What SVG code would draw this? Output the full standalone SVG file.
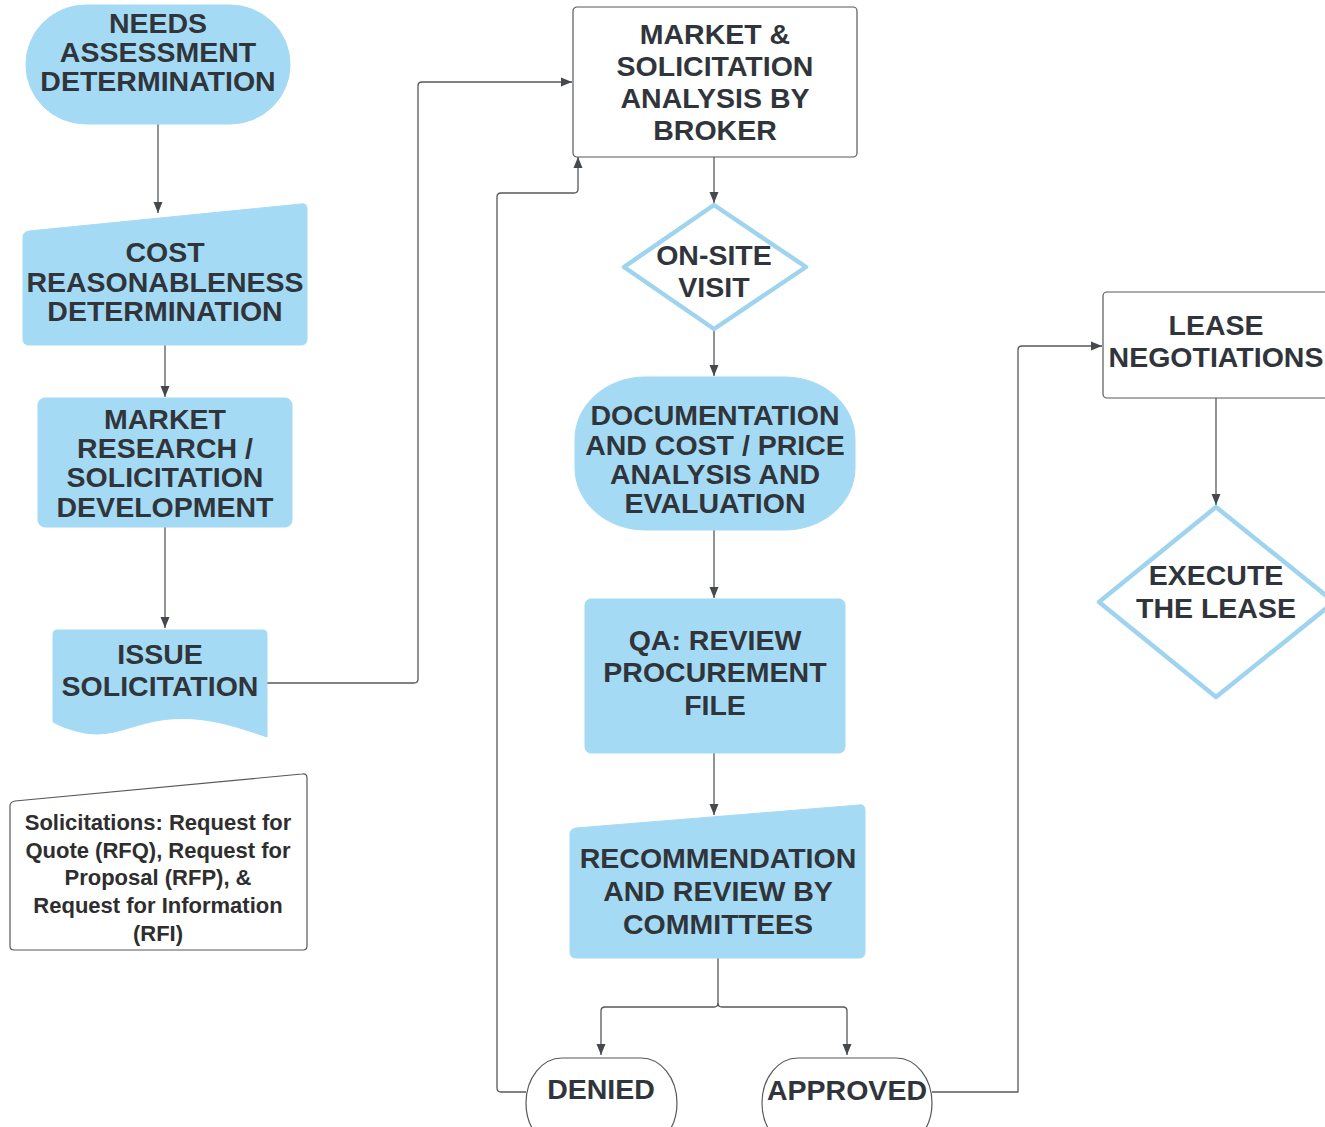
<svg xmlns="http://www.w3.org/2000/svg" width="1325" height="1127" viewBox="0 0 1325 1127">
<defs>
<style>
.lbl{font-family:"Liberation Sans",Arial,sans-serif;font-weight:bold;font-size:28.5px;fill:#30353b;text-anchor:middle}
.note{font-family:"Liberation Sans",Arial,sans-serif;font-weight:bold;font-size:22px;fill:#2e2e2e;text-anchor:middle}
.blue{fill:#a5daf4;stroke:#a5daf4;stroke-width:1;stroke-linejoin:round}
.white{fill:#ffffff;stroke:#55585c;stroke-width:1.2;stroke-linejoin:round}
.dia{fill:#ffffff;stroke:#9fd4ef;stroke-width:4.5;stroke-linejoin:round}
.con{fill:none;stroke:#55585c;stroke-width:1.3;stroke-linejoin:round}
</style>
<marker id="ah" viewBox="0 0 11 10" refX="11" refY="5" markerWidth="11" markerHeight="10" markerUnits="userSpaceOnUse" orient="auto">
<path d="M0,0.5 L11,5 L0,9.5 Z" fill="#45484c"/>
</marker>
</defs>
<rect width="1325" height="1127" fill="#ffffff"/>

<g id="connectors">
<path class="con" d="M158,124 V213" marker-end="url(#ah)"/>
<path class="con" d="M165,345 V397" marker-end="url(#ah)"/>
<path class="con" d="M165,527 V628" marker-end="url(#ah)"/>
<path class="con" d="M267,683 H414 Q418,683 418,679 V86 Q418,82 422,82 H572" marker-end="url(#ah)"/>
<path class="con" d="M714,157 V203" marker-end="url(#ah)"/>
<path class="con" d="M714,330 V376" marker-end="url(#ah)"/>
<path class="con" d="M714,530 V598" marker-end="url(#ah)"/>
<path class="con" d="M714,753 V815" marker-end="url(#ah)"/>
<path class="con" d="M718,958 V1003 Q718,1007 714,1007 H605 Q601,1007 601,1011 V1055" marker-end="url(#ah)"/>
<path class="con" d="M718,1003 Q718,1007 722,1007 H843 Q847,1007 847,1011 V1055" marker-end="url(#ah)"/>
<path class="con" d="M526,1092 H501 Q497,1092 497,1088 V197 Q497,193 501,193 H574 Q578,193 578,189 V157" marker-end="url(#ah)"/>
<path class="con" d="M932,1092 H1018 V350 Q1018,346 1022,346 H1102" marker-end="url(#ah)"/>
<path class="con" d="M1216,398 V505" marker-end="url(#ah)"/>
<path d="M277,459 L291,463.5 L277,468 Z" fill="#45484c"/>
</g>

<g id="needs">
<rect class="blue" x="26" y="5" width="264" height="119" rx="60" ry="59"/>
<text class="lbl" x="158" y="33">NEEDS</text>
<text class="lbl" x="158" y="62">ASSESSMENT</text>
<text class="lbl" x="158" y="91">DETERMINATION</text>
</g>

<g id="cost">
<path class="blue" d="M29,231 L301,204 Q307,203 307,209 V339 Q307,345 301,345 H29 Q23,345 23,339 V237 Q23,232 29,231 Z"/>
<text class="lbl" x="165" y="262">COST</text>
<text class="lbl" x="165" y="292">REASONABLENESS</text>
<text class="lbl" x="165" y="321">DETERMINATION</text>
</g>

<g id="market-research">
<rect class="blue" x="38" y="398" width="254" height="129" rx="7"/>
<text class="lbl" x="165" y="429">MARKET</text>
<text class="lbl" x="165" y="458">RESEARCH /</text>
<text class="lbl" x="165" y="487">SOLICITATION</text>
<text class="lbl" x="165" y="517">DEVELOPMENT</text>
</g>

<g id="issue">
<path class="blue" d="M57,630 H263 Q267,630 267,634 V737 C235,726 205,716 170,719 C135,722 115,738 85,733 C70,730 60,726 53,722 V634 Q53,630 57,630 Z"/>
<text class="lbl" x="160" y="664">ISSUE</text>
<text class="lbl" x="160" y="696">SOLICITATION</text>
</g>

<g id="note">
<path class="white" d="M15,801 L302,774 Q307,773 307,778 V946 Q307,950 303,950 H14 Q10,950 10,946 V806 Q10,802 15,801 Z"/>
<text class="note" x="158" y="830">Solicitations: Request for</text>
<text class="note" x="158" y="858">Quote (RFQ), Request for</text>
<text class="note" x="158" y="885">Proposal (RFP), &amp;</text>
<text class="note" x="158" y="913">Request for Information</text>
<text class="note" x="158" y="941">(RFI)</text>
</g>

<g id="broker">
<rect class="white" x="573" y="7" width="284" height="150" rx="4"/>
<text class="lbl" x="715" y="44">MARKET &amp;</text>
<text class="lbl" x="715" y="76">SOLICITATION</text>
<text class="lbl" x="715" y="108">ANALYSIS BY</text>
<text class="lbl" x="715" y="140">BROKER</text>
</g>

<g id="onsite">
<path class="dia" d="M714,205 L806,267 L714,329 L624,267 Z"/>
<text class="lbl" x="714" y="265">ON-SITE</text>
<text class="lbl" x="714" y="297">VISIT</text>
</g>

<g id="documentation">
<rect class="blue" x="575" y="377" width="280" height="153" rx="70" ry="62"/>
<text class="lbl" x="715" y="425">DOCUMENTATION</text>
<text class="lbl" x="715" y="455">AND COST / PRICE</text>
<text class="lbl" x="715" y="484">ANALYSIS AND</text>
<text class="lbl" x="715" y="513">EVALUATION</text>
</g>

<g id="qa">
<rect class="blue" x="585" y="599" width="260" height="154" rx="6"/>
<text class="lbl" x="715" y="650">QA: REVIEW</text>
<text class="lbl" x="715" y="682">PROCUREMENT</text>
<text class="lbl" x="715" y="715">FILE</text>
</g>

<g id="recommendation">
<path class="blue" d="M576,828 L859,805 Q865,804 865,810 V952 Q865,958 859,958 H576 Q570,958 570,952 V834 Q570,829 576,828 Z"/>
<text class="lbl" x="718" y="868">RECOMMENDATION</text>
<text class="lbl" x="718" y="901">AND REVIEW BY</text>
<text class="lbl" x="718" y="934">COMMITTEES</text>
</g>

<g id="denied">
<rect class="white" x="526" y="1058" width="151" height="90" rx="36" ry="45"/>
<text class="lbl" x="601" y="1099">DENIED</text>
</g>

<g id="approved">
<rect class="white" x="762" y="1058" width="170" height="90" rx="36" ry="45"/>
<text class="lbl" x="847" y="1100">APPROVED</text>
</g>

<g id="lease">
<rect class="white" x="1103" y="292" width="240" height="106" rx="4"/>
<text class="lbl" x="1216" y="335">LEASE</text>
<text class="lbl" x="1216" y="367">NEGOTIATIONS</text>
</g>

<g id="execute">
<path class="dia" d="M1216,507 L1334,602 L1216,697 L1099,602 Z"/>
<text class="lbl" x="1216" y="585">EXECUTE</text>
<text class="lbl" x="1216" y="618">THE LEASE</text>
</g>
</svg>
